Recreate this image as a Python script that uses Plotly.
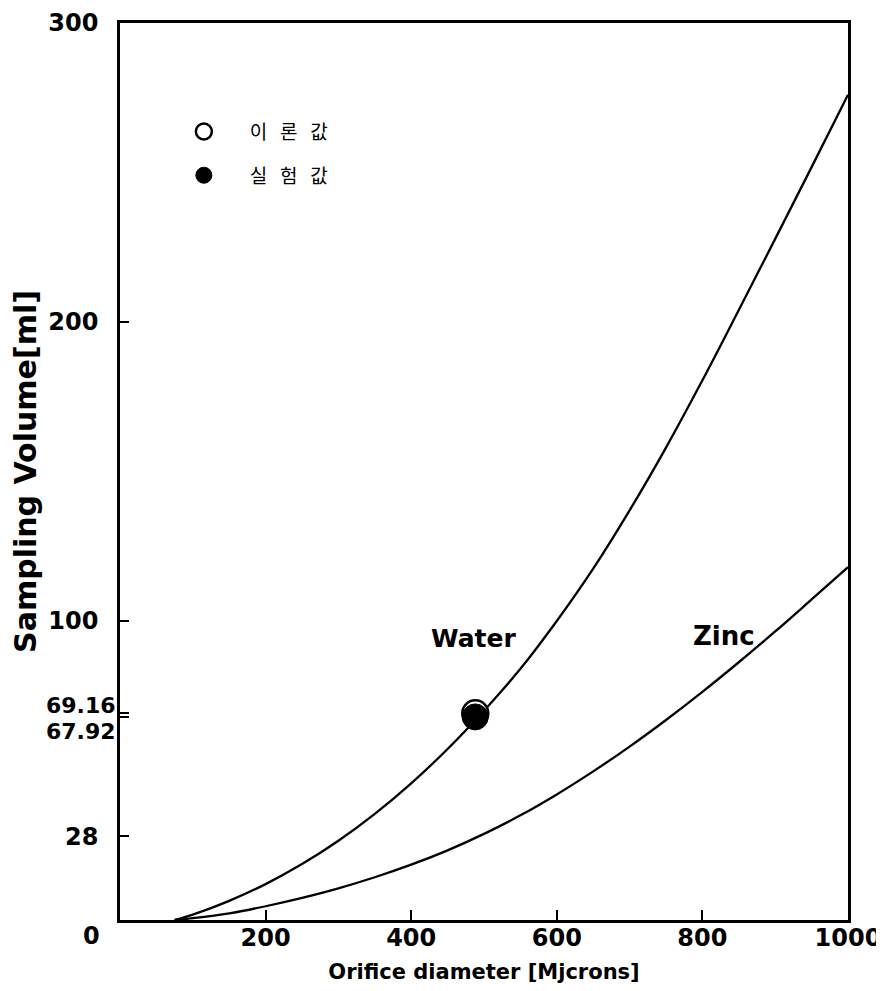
import plotly.graph_objects as go

# Curve readings (orifice diameter in microns -> sampling volume in ml)
water_x = [75, 100, 150, 200, 250, 300, 350, 400, 450, 500, 550, 600, 650, 700, 750, 800, 850, 900, 950, 1000]
water_y = [0, 1.8, 6.4, 12, 18.7, 26.5, 35.5, 45.7, 57.2, 70, 84, 100, 117.5, 137, 158, 180.5, 204, 227.8, 251.8, 276]

zinc_x = [75, 100, 150, 200, 250, 300, 350, 400, 450, 500, 550, 600, 650, 700, 750, 800, 850, 900, 950, 1000]
zinc_y = [0, 0.6, 2.2, 4.6, 7.4, 10.6, 14.3, 18.5, 23.3, 28.8, 35, 42, 49.7, 58, 66.9, 76.3, 86.2, 96.5, 107.2, 118]

# measured points at the same orifice diameter
theory_x = [488]
theory_y = [69.16]
exp_x = [488]
exp_y = [67.92]

x_ticks = [200, 400, 600, 800, 1000]
y_ticks = [28, 100, 200, 300]
y_special = [69.16, 67.92]

FONT = "DejaVu Sans"
KFONT = "Noto Sans CJK KR"

fig = go.Figure()
fig.add_trace(go.Scatter(x=water_x, y=water_y, mode="lines", line=dict(color="black", width=2.3, shape="spline"),
                         showlegend=False, hoverinfo="skip"))
fig.add_trace(go.Scatter(x=zinc_x, y=zinc_y, mode="lines", line=dict(color="black", width=2.3, shape="spline"),
                         showlegend=False, hoverinfo="skip"))
fig.add_trace(go.Scatter(x=theory_x, y=theory_y, mode="markers", name="이   론   값", legendgroup="a",
                         marker=dict(symbol="circle", size=26, color="white", line=dict(color="black", width=2.5))))
fig.add_trace(go.Scatter(x=exp_x, y=exp_y, mode="markers", name="실   험   값", legendgroup="b",
                         marker=dict(symbol="circle", size=26, color="black", line=dict(color="black", width=1))))

fig.add_annotation(x=486, y=94, text="<b>Water</b>", showarrow=False, font=dict(family=FONT, size=25, color="black"))
fig.add_annotation(x=830, y=95, text="<b>Zinc</b>", showarrow=False, font=dict(family=FONT, size=26, color="black"))

# origin label and the two close tick labels
fig.add_annotation(xref="paper", yref="paper", x=0, y=0, text="<b>0</b>", showarrow=False,
                   xanchor="right", yanchor="top", xshift=-18, yshift=0, font=dict(family=FONT, size=24, color="black"))
fig.add_annotation(xref="paper", x=0, y=y_special[0], text="<b>69.16</b>", showarrow=False,
                   xanchor="right", xshift=-2, yshift=8, font=dict(family=FONT, size=22, color="black"))
fig.add_annotation(xref="paper", x=0, y=y_special[1], text="<b>67.92</b>", showarrow=False,
                   xanchor="right", xshift=-2, yshift=-15, font=dict(family=FONT, size=22, color="black"))

fig.update_layout(
    width=884, height=991,
    margin=dict(l=112, r=44, t=15, b=79),
    paper_bgcolor="white", plot_bgcolor="white",
    font=dict(family=FONT, size=20, color="black"),
    legend=dict(x=0.052, y=0.90, xanchor="left", yanchor="top", bgcolor="rgba(0,0,0,0)",
                font=dict(family=KFONT, size=19, color="black"), tracegroupgap=16,
                itemsizing="trace", itemwidth=82),
    xaxis=dict(range=[0, 1000], tickvals=x_ticks, ticktext=[f"<b>{v}</b>" for v in x_ticks],
               ticks="inside", ticklen=10, tickwidth=2, tickcolor="black", automargin=False,
               showline=True, linecolor="black", linewidth=2.5, mirror=True, showgrid=False, zeroline=False,
               tickfont=dict(family=FONT, size=24), ticklabelstandoff=-6,
               title=dict(text="<b>Orifice diameter [Mjcrons]</b>", font=dict(family=FONT, size=21), standoff=14)),
    yaxis=dict(range=[0, 300], tickvals=y_ticks + y_special,
               ticktext=[f"<b>{v}</b>" for v in y_ticks] + ["", ""],
               ticks="inside", ticklen=9, tickwidth=2, tickcolor="black", automargin=False,
               showline=True, linecolor="black", linewidth=2.5, mirror=True, showgrid=False, zeroline=False,
               tickfont=dict(family=FONT, size=24), ticklabelstandoff=14,
               title=dict(text="<b>Sampling Volume[ml]</b>", font=dict(family=FONT, size=30), standoff=8)),
)

fig.write_html("out.html")
